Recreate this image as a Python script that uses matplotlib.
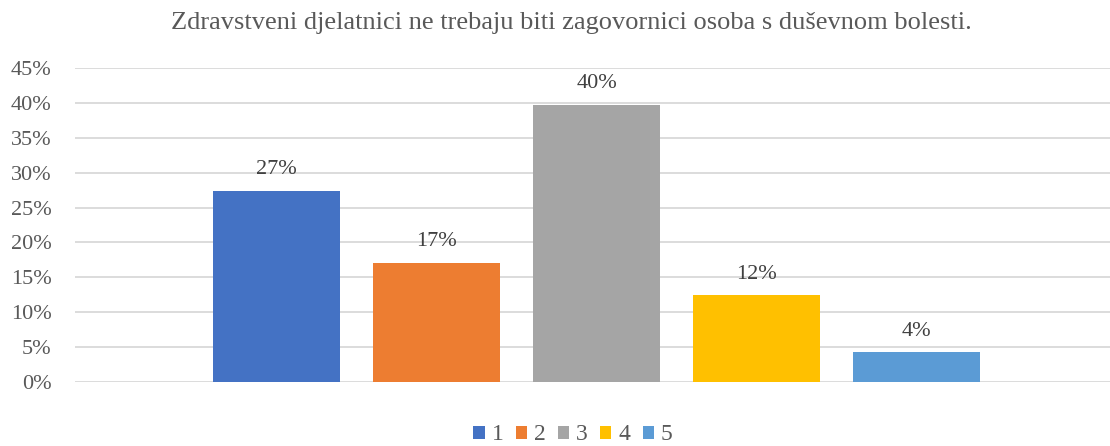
import matplotlib
matplotlib.use("Agg")
import matplotlib.pyplot as plt
from matplotlib.ticker import PercentFormatter

categories = ["1", "2", "3", "4", "5"]
values = [0.274, 0.171, 0.398, 0.124, 0.042]
value_labels = ["27%", "17%", "40%", "12%", "4%"]
colors = ["#4472C4", "#ED7D31", "#A5A5A5", "#FFC000", "#5B9BD5"]
title = "Zdravstveni djelatnici ne trebaju biti zagovornici osoba s duševnom bolesti."
yticks = [0, 0.05, 0.10, 0.15, 0.20, 0.25, 0.30, 0.35, 0.40, 0.45]

plt.rcParams["font.family"] = ["Liberation Serif", "DejaVu Serif"]

fig = plt.figure(figsize=(11.1, 4.46), dpi=100)
ax = fig.add_axes([75/1110, 1-381.7/446, 1-75/1110, (381.7-68.3)/446])

for i, (cat, v, c, lab) in enumerate(zip(categories, values, colors, value_labels)):
    ax.bar(i, v, width=0.79, color=c, label=cat, zorder=3)
    ax.annotate(lab, (i, v), xytext=(0, 12), textcoords="offset points",
                ha="center", va="baseline", fontsize=16, color="#404040")

ax.set_xlim(-1.259, 5.209)
ax.set_ylim(0, 0.45)
ax.set_yticks(yticks)
ax.yaxis.set_major_formatter(PercentFormatter(1.0, decimals=0))
ax.grid(axis="y", color="#D9D9D9", linewidth=1.3, zorder=0)
ax.set_xticks([])
for s in ax.spines.values():
    s.set_visible(False)
ax.tick_params(axis="y", length=0, pad=17, labelsize=16, labelcolor="#595959")

fig.text(571.5/1110, 1-23/446, title, ha="center", va="center", fontsize=19, color="#595959")

fig.legend(loc="center", bbox_to_anchor=(573/1110, 1-435/446), ncol=5, frameon=False,
           handlelength=0.47, handleheight=0.47, handletextpad=0.3, columnspacing=0.52,
           fontsize=17, labelcolor="#595959")

fig.savefig("out.png", dpi=100, facecolor="white")
